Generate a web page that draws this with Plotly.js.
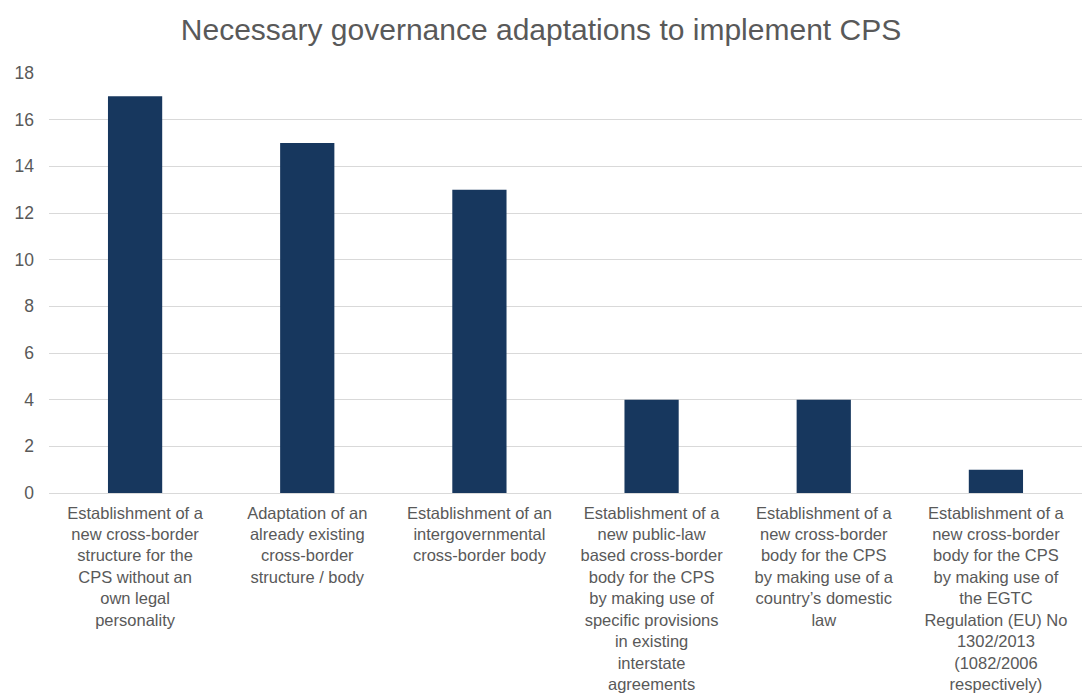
<!DOCTYPE html>
<html>
<head>
<meta charset="utf-8">
<script src="https://cdn.plot.ly/plotly-3.0.1.min.js"></script>
<style>html,body{margin:0;padding:0;background:#fff;}#chart{width:1082px;height:700px;}</style>
</head>
<body>
<div id="chart"></div>
<script>
var chartTitle = "Necessary governance adaptations to implement CPS";
var categories = [
  "Establishment of a<br>new cross-border<br>structure for the<br>CPS without an<br>own legal<br>personality",
  "Adaptation of an<br>already existing<br>cross-border<br>structure / body",
  "Establishment of an<br>intergovernmental<br>cross-border body",
  "Establishment of a<br>new public-law<br>based cross-border<br>body for the CPS<br>by making use of<br>specific provisions<br>in existing<br>interstate<br>agreements",
  "Establishment of a<br>new cross-border<br>body for the CPS<br>by making use of a<br>country\u2019s domestic<br>law",
  "Establishment of a<br>new cross-border<br>body for the CPS<br>by making use of<br>the EGTC<br>Regulation (EU) No<br>1302/2013<br>(1082/2006<br>respectively)"
];
var values = [17, 15, 13, 4, 4, 1];
var yTicks = [0, 2, 4, 6, 8, 10, 12, 14, 16, 18];

var fontFam = "Liberation Sans, Arial, sans-serif";
var textColor = "#595959";

var trace = {
  type: "bar",
  x: categories,
  y: values,
  marker: {color: "#17375e", line: {width: 0}},
  hoverinfo: "x+y"
};

var layout = {
  width: 1082,
  height: 700,
  paper_bgcolor: "#ffffff",
  plot_bgcolor: "#ffffff",
  margin: {l: 49, r: 0, t: 72.5, b: 206.5, pad: 0},
  title: {
    text: chartTitle,
    font: {family: fontFam, size: 30, color: textColor},
    x: 0.5, xref: "container", xanchor: "center",
    y: 0.958, yref: "container", yanchor: "middle"
  },
  showlegend: false,
  bargap: 0.685,
  xaxis: {
    type: "category",
    showgrid: false,
    zeroline: false,
    showline: false,
    ticks: "",
    tickangle: 0,
    ticklabelstandoff: 8,
    tickfont: {family: fontFam, size: 16.5, color: textColor},
    automargin: false
  },
  yaxis: {
    range: [0, 18],
    tickvals: yTicks,
    ticktext: yTicks.map(String),
    showgrid: true,
    gridcolor: "#d9d9d9",
    gridwidth: 1.3,
    zeroline: true,
    zerolinecolor: "#d9d9d9",
    zerolinewidth: 1.3,
    showline: false,
    ticks: "",
    ticklabelstandoff: 14,
    tickfont: {family: fontFam, size: 17.5, color: textColor},
    automargin: false
  }
};

Plotly.newPlot("chart", [trace], layout, {displayModeBar: false, staticPlot: false});
</script>
</body>
</html>
